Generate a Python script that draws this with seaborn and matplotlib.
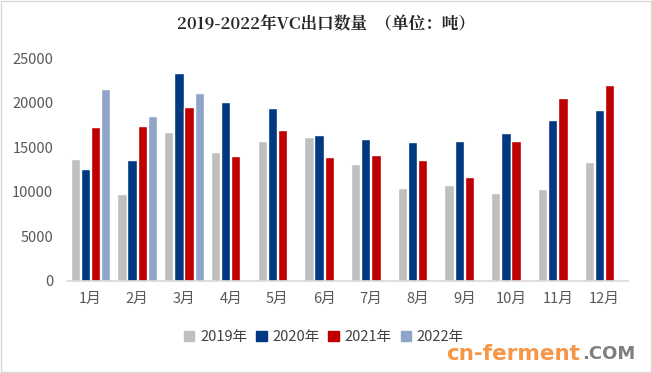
import matplotlib
matplotlib.use("Agg")
import matplotlib.pyplot as plt
import seaborn as sns
import pandas as pd
import numpy as np
from matplotlib.patches import Rectangle

months = ["1月", "2月", "3月", "4月", "5月", "6月", "7月", "8月", "9月", "10月", "11月", "12月"]
years = ["2019年", "2020年", "2021年", "2022年"]
v2019 = [13660, 9720, 16700, 14450, 15690, 16140, 13100, 10400, 10730, 9830, 10280, 13320]
v2020 = [12530, 13550, 23350, 20080, 19400, 16360, 15910, 15570, 15690, 16590, 18050, 19180]
v2021 = [17260, 17380, 19520, 14000, 16930, 13890, 14110, 13550, 11630, 15690, 20530, 21990]
v2022 = [21540, 18500, 21090, np.nan, np.nan, np.nan, np.nan, np.nan, np.nan, np.nan, np.nan, np.nan]
colors = ["#BFBFBF", "#003882", "#C00000", "#8EA5C8"]

rows = []
for y, vals in zip(years, [v2019, v2020, v2021, v2022]):
    for m, v in zip(months, vals):
        rows.append({"月": m, "年": y, "值": v})
df = pd.DataFrame(rows)

sns.set_style("white")
plt.rcParams['font.family'] = ['Noto Sans CJK SC', 'DejaVu Sans']

fig = plt.figure(figsize=(6.52, 3.73), dpi=100)
ax = fig.add_axes([0.103, 0.247, 0.860, 0.597])
sns.barplot(data=df, x="月", y="值", hue="年", order=months, hue_order=years,
            palette=colors, width=0.87, gap=0.08, ax=ax, legend=False, saturation=1)

ax.set_ylim(0, 25000)
ax.set_yticks(range(0, 25001, 5000))
ax.set_xlim(-0.5, 11.5)
ax.set_xlabel("")
ax.set_ylabel("")
for s in ["left", "right", "top"]:
    ax.spines[s].set_visible(False)
ax.spines["bottom"].set_color("#D9D9D9")
ax.spines["bottom"].set_linewidth(1.2)
ax.tick_params(axis="both", length=0, labelsize=10.5, colors="#595959")
ax.tick_params(axis="x", pad=8)
ax.tick_params(axis="y", pad=10)

fig.text(0.5, 0.935, "2019-2022年VC出口数量  （单位：吨）", ha="center", va="center",
         fontsize=12, fontweight="bold", color="#262626",
         family=['Noto Serif CJK SC', 'Noto Sans CJK SC', 'DejaVu Sans'])

handles = [Rectangle((0, 0), 1, 1, color=c) for c in colors]
fig.legend(handles, years, loc="center", bbox_to_anchor=(0.497, 0.097), ncol=4,
           frameon=False, fontsize=10.5, handlelength=0.7, handleheight=0.7,
           handletextpad=0.4, columnspacing=0.6, labelcolor="#404040")

fig.text(0.685, 0.05, "cn-ferment", ha="left", va="center", fontsize=15.5,
         fontweight="bold", color="#F79646", family=["DejaVu Sans"])
fig.text(0.893, 0.05, ".COM", ha="left", va="center", fontsize=13,
         fontweight="bold", color="#7F7F7F", family=["DejaVu Sans"])

fig.add_artist(Rectangle((0.002, 0.004), 0.996, 0.992, transform=fig.transFigure,
                         fill=False, edgecolor="#D9D9D9", linewidth=1))

fig.savefig("out.png", dpi=100)
